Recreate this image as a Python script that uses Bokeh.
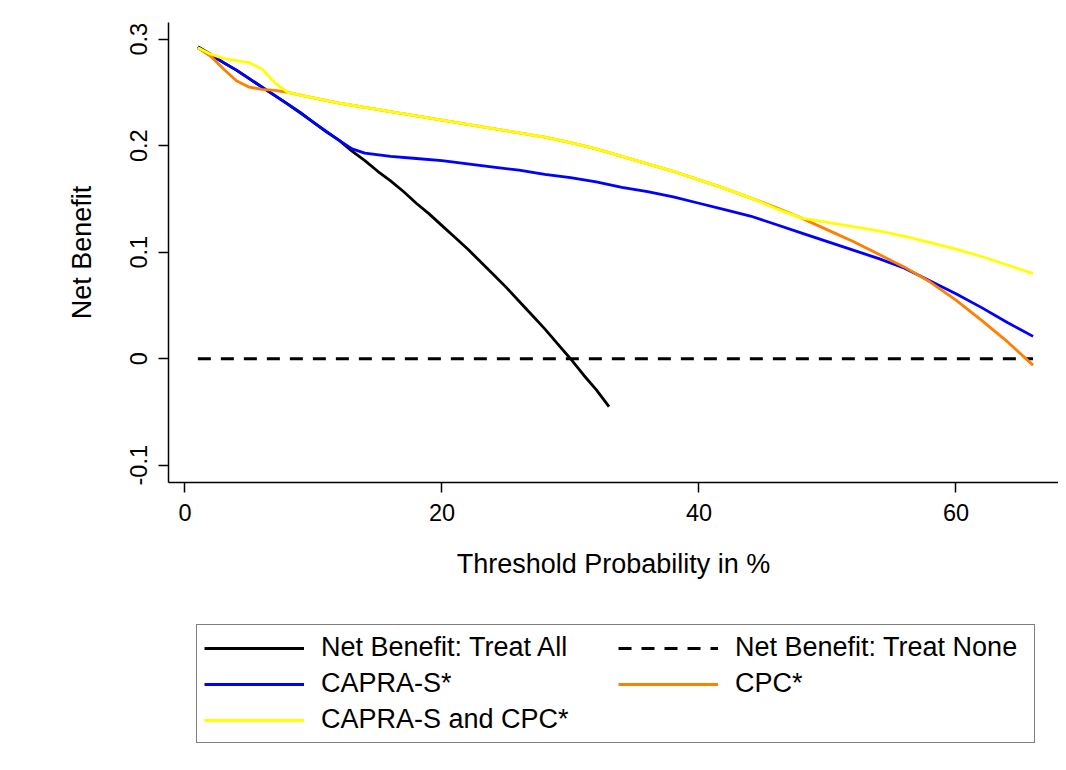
from bokeh.plotting import figure
from bokeh.layouts import column
from bokeh.models import Range1d, FixedTicker, Legend, LegendItem
from bokeh.embed import file_html
from bokeh.resources import INLINE

# ---------------- data ----------------
x_all = list(range(1, 34))
treat_all = [0.293, 0.286, 0.278, 0.271, 0.263, 0.255, 0.247, 0.239, 0.231, 0.222,
             0.213, 0.205, 0.195, 0.186, 0.176, 0.167, 0.157, 0.146, 0.136, 0.125,
             0.114, 0.103, 0.091, 0.079, 0.067, 0.054, 0.041, 0.028, 0.014, 0.000,
             -0.015, -0.029, -0.045]

x_none = [1, 66]
treat_none = [0, 0]

x_models = [1, 2, 3, 4, 5, 6, 7, 8, 10, 12, 13, 14, 16, 18, 20, 22, 24, 26, 28, 30,
            32, 34, 36, 38, 40, 42, 44, 46, 48, 50, 52, 54, 56, 58, 60, 62, 64, 66]
capra_s = [0.292, 0.285, 0.278, 0.271, 0.263, 0.255, 0.247, 0.239, 0.222, 0.205,
           0.197, 0.193, 0.190, 0.188, 0.186, 0.183, 0.180, 0.177, 0.173, 0.170,
           0.166, 0.161, 0.157, 0.152, 0.146, 0.140, 0.134, 0.126, 0.118, 0.110,
           0.102, 0.094, 0.085, 0.073, 0.061, 0.048, 0.034, 0.021]
cpc = [0.292, 0.284, 0.272, 0.261, 0.255, 0.253, 0.252, 0.250, 0.245, 0.240,
       0.238, 0.236, 0.232, 0.228, 0.224, 0.220, 0.216, 0.212, 0.208, 0.203,
       0.197, 0.190, 0.183, 0.176, 0.168, 0.160, 0.151, 0.142, 0.132, 0.121,
       0.110, 0.098, 0.086, 0.072, 0.055, 0.036, 0.016, -0.006]
capra_cpc = [0.292, 0.286, 0.282, 0.280, 0.278, 0.272, 0.259, 0.250, 0.245, 0.240,
             0.238, 0.236, 0.232, 0.228, 0.224, 0.220, 0.216, 0.212, 0.208, 0.203,
             0.197, 0.190, 0.183, 0.176, 0.168, 0.160, 0.151, 0.141, 0.132, 0.128,
             0.124, 0.120, 0.115, 0.109, 0.103, 0.096, 0.088, 0.080]

x_ticks = [0, 20, 40, 60]
y_ticks = [-0.1, 0, 0.1, 0.2, 0.3]
y_tick_labels = ["-0.1", "0", "0.1", "0.2", "0.3"]

labels = ["Net Benefit: Treat All", "Net Benefit: Treat None", "CAPRA-S*", "CPC*",
          "CAPRA-S and CPC*"]
colors = ["#000000", "#000000", "#0000FF", "#FF7F00", "#FFFF00"]
dashes = ["solid", "13 10", "solid", "solid", "solid"]

FONT = "Liberation Sans"
LW = 2.8

series = [(x_all, treat_all), (x_none, treat_none), (x_models, capra_s),
          (x_models, cpc), (x_models, capra_cpc)]

# ---------------- main figure ----------------
p = figure(width=1058, height=600, output_backend="svg", toolbar_location=None,
           x_range=Range1d(-1.284, 67.98), y_range=Range1d(-0.1162, 0.3157),
           min_border_left=168, min_border_right=0, min_border_top=22,
           min_border_bottom=118)
p.outline_line_color = None
p.xgrid.visible = False
p.ygrid.visible = False
p.background_fill_color = "white"
p.border_fill_color = "white"

for (xs, ys), c, d in zip(series, colors, dashes):
    p.line(xs, ys, line_color=c, line_width=LW, line_dash=d)

for ax in (p.xaxis[0], p.yaxis[0]):
    ax.axis_line_width = 1.5
    ax.axis_line_color = "black"
    ax.major_tick_line_width = 1.5
    ax.major_tick_line_color = "black"
    ax.major_tick_in = 0
    ax.major_tick_out = 10
    ax.minor_tick_line_color = None
    ax.major_label_text_font = FONT
    ax.major_label_text_font_size = "23.5px"
    ax.major_label_text_color = "black"
    ax.axis_label_text_font = FONT
    ax.axis_label_text_font_size = "27px"
    ax.axis_label_text_font_style = "normal"
    ax.axis_label_text_color = "black"

p.xaxis.ticker = FixedTicker(ticks=x_ticks)
p.xaxis.axis_label = "Threshold Probability in %"
p.xaxis.major_label_standoff = 11
p.xaxis.axis_label_standoff = 25

p.yaxis.ticker = FixedTicker(ticks=y_ticks)
p.yaxis.major_label_overrides = {t: s for t, s in zip(y_ticks, y_tick_labels)}
p.yaxis.major_label_orientation = "parallel"
p.yaxis.axis_label = "Net Benefit"
p.yaxis.major_label_standoff = 11
p.yaxis.axis_label_standoff = 31

# ---------------- legend figure (same series, ranges kept off the data) ----------------
q = figure(width=1058, height=162, output_backend="svg", toolbar_location=None,
           x_range=Range1d(200, 201), y_range=Range1d(200, 201),
           x_axis_type=None, y_axis_type=None,
           min_border_left=168, min_border_right=0, min_border_top=0, min_border_bottom=0)
q.outline_line_color = None
q.xgrid.visible = False
q.ygrid.visible = False
q.background_fill_color = "white"
q.border_fill_color = "white"

legend_renderers = [q.line(xs, ys, line_color=c, line_width=LW, line_dash=d)
                    for (xs, ys), c, d in zip(series, colors, dashes)]
items = [LegendItem(label=l, renderers=[r]) for l, r in zip(labels, legend_renderers)]
legend = Legend(items=items, orientation="horizontal", ncols=2, location=(28, 19))
legend.label_text_font = FONT
legend.label_text_font_size = "27px"
legend.label_text_color = "black"
legend.glyph_width = 100
legend.glyph_height = 20
legend.label_standoff = 17
legend.label_width = 292
legend.label_height = 30
legend.spacing = 5
legend.padding = 7
legend.margin = 0
legend.border_line_color = "black"
legend.border_line_width = 1.5
legend.background_fill_color = "white"
legend.background_fill_alpha = 1
q.add_layout(legend)

layout = column(p, q, spacing=0)
open("out.html", "w").write(file_html(layout, INLINE))
